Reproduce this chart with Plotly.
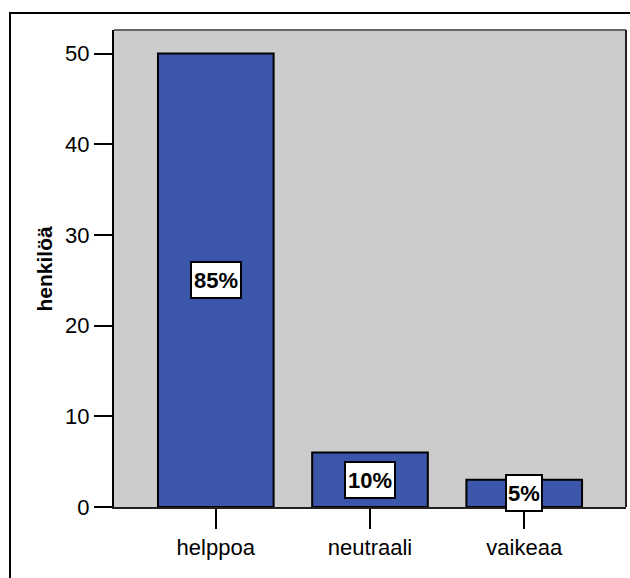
import plotly.graph_objects as go

# Survey answers: how many respondents found it easy / neutral / hard
categories = ["helppoa", "neutraali", "vaikeaa"]
counts = [50, 6, 3]
percent_labels = ["85%", "10%", "5%"]
y_ticks = [0, 10, 20, 30, 40, 50]

W, H = 630, 578
ML, MR, MT, MB = 114, 4, 30, 71
pw, ph = W - ML - MR, H - MT - MB
FONT = "Liberation Sans, Arial"

fig = go.Figure()
fig.add_trace(go.Bar(
    x=categories,
    y=counts,
    width=0.75,
    marker=dict(color="#3c56a9", line=dict(color="black", width=2)),
    hoverinfo="skip",
))

# Percentage boxes in the middle of each bar
for cat, val, lab in zip(categories, counts, percent_labels):
    fig.add_annotation(
        x=cat, y=val / 2, xref="x", yref="y",
        text="<b>%s</b>" % lab, showarrow=False,
        font=dict(family=FONT, size=22, color="black"),
        width=14 * len(lab) + 4, height=32,
        bgcolor="white", bordercolor="black", borderwidth=2, borderpad=1,
    )

# y-axis title
fig.add_annotation(
    x=(44 - ML) / pw, y=0.5, xref="paper", yref="paper",
    text="<b>henkilöä</b>", textangle=-90, showarrow=False,
    font=dict(family=FONT, size=21, color="black"),
    xanchor="center", yanchor="middle",
)

# Outer frame and the top/right edges of the plot area
fig.add_shape(type="rect", xref="paper", yref="paper",
              x0=(10 - ML) / pw, x1=(640 - ML) / pw,
              y0=-0.5, y1=1 + (MT - 13) / ph,
              line=dict(color="black", width=2), layer="below")
fig.add_shape(type="line", xref="paper", yref="paper",
              x0=0, x1=1, y0=1, y1=1, line=dict(color="#666666", width=2))
fig.add_shape(type="line", xref="paper", yref="paper",
              x0=1, x1=1, y0=0, y1=1, line=dict(color="#222222", width=2))

fig.update_layout(
    width=W, height=H,
    margin=dict(l=ML, r=MR, t=MT, b=MB, pad=0),
    paper_bgcolor="white",
    plot_bgcolor="#cccccc",
    showlegend=False,
    font=dict(family=FONT, size=22, color="black"),
    bargap=0.25,
)
fig.update_xaxes(
    range=[-0.66, 2.66], showgrid=False, zeroline=False,
    showline=True, linecolor="#222222", linewidth=2,
    ticks="outside", ticklen=20, tickwidth=2, tickcolor="black",
    tickfont=dict(size=22),
)
fig.update_yaxes(
    range=[0, 52.6], tickvals=y_ticks, showgrid=False, zeroline=False,
    showline=True, linecolor="black", linewidth=2,
    ticks="outside", ticklen=18, tickwidth=2, tickcolor="black",
    tickfont=dict(size=22),
)

fig.write_html("out.html")
